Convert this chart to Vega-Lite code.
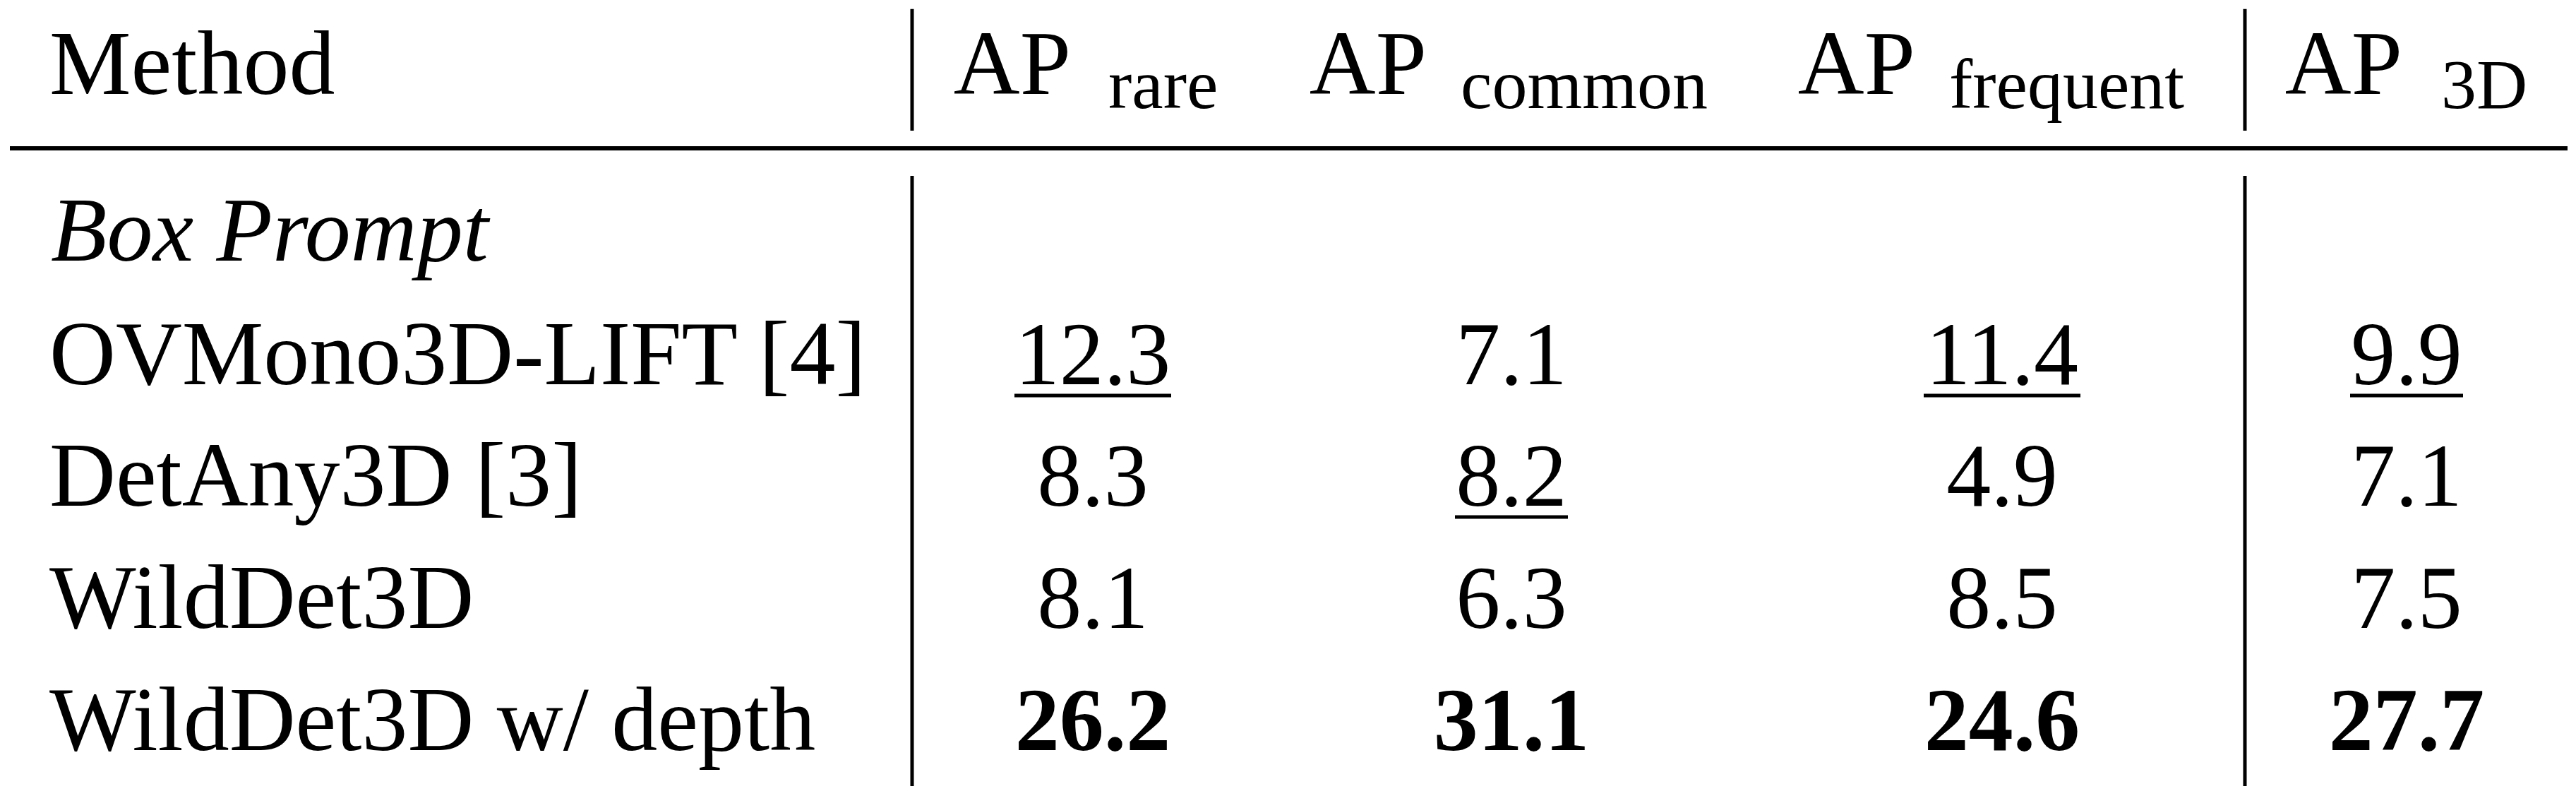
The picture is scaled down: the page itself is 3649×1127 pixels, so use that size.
{
  "$schema": "https://vega.github.io/schema/vega-lite/v6.json",
  "width": 3649,
  "height": 1127,
  "padding": 0,
  "autosize": {"type": "none"},
  "background": "white",
  "config": {
    "view": {"stroke": null},
    "text": {"font": "Liberation Serif", "color": "black", "baseline": "alphabetic"},
    "rule": {"color": "black"}
  },
  "datasets": {
    "headers": [
      {"col": 1, "metric": "rare"},
      {"col": 2, "metric": "common"},
      {"col": 3, "metric": "frequent"},
      {"col": 4, "metric": "3D"}
    ],
    "methods": [
      {"row": 1, "method": "Box Prompt", "kind": "section"},
      {"row": 2, "method": "OVMono3D-LIFT [4]", "kind": "model"},
      {"row": 3, "method": "DetAny3D [3]", "kind": "model"},
      {"row": 4, "method": "WildDet3D", "kind": "model"},
      {"row": 5, "method": "WildDet3D w/ depth", "kind": "model"}
    ],
    "cells": [
      {"row": 2, "method": "OVMono3D-LIFT [4]", "col": 1, "metric": "rare", "value": "12.3", "place": "second"},
      {"row": 2, "method": "OVMono3D-LIFT [4]", "col": 2, "metric": "common", "value": "7.1", "place": ""},
      {"row": 2, "method": "OVMono3D-LIFT [4]", "col": 3, "metric": "frequent", "value": "11.4", "place": "second"},
      {"row": 2, "method": "OVMono3D-LIFT [4]", "col": 4, "metric": "3D", "value": "9.9", "place": "second"},
      {"row": 3, "method": "DetAny3D [3]", "col": 1, "metric": "rare", "value": "8.3", "place": ""},
      {"row": 3, "method": "DetAny3D [3]", "col": 2, "metric": "common", "value": "8.2", "place": "second"},
      {"row": 3, "method": "DetAny3D [3]", "col": 3, "metric": "frequent", "value": "4.9", "place": ""},
      {"row": 3, "method": "DetAny3D [3]", "col": 4, "metric": "3D", "value": "7.1", "place": ""},
      {"row": 4, "method": "WildDet3D", "col": 1, "metric": "rare", "value": "8.1", "place": ""},
      {"row": 4, "method": "WildDet3D", "col": 2, "metric": "common", "value": "6.3", "place": ""},
      {"row": 4, "method": "WildDet3D", "col": 3, "metric": "frequent", "value": "8.5", "place": ""},
      {"row": 4, "method": "WildDet3D", "col": 4, "metric": "3D", "value": "7.5", "place": ""},
      {"row": 5, "method": "WildDet3D w/ depth", "col": 1, "metric": "rare", "value": "26.2", "place": "best"},
      {"row": 5, "method": "WildDet3D w/ depth", "col": 2, "metric": "common", "value": "31.1", "place": "best"},
      {"row": 5, "method": "WildDet3D w/ depth", "col": 3, "metric": "frequent", "value": "24.6", "place": "best"},
      {"row": 5, "method": "WildDet3D w/ depth", "col": 4, "metric": "3D", "value": "27.7", "place": "best"}
    ]
  },
  "resolve": {"scale": {"x": "independent"}},
  "layer": [
    {
      "data": {"values": [{}]},
      "mark": {"type": "rule", "strokeWidth": 6},
      "encoding": {
        "x": {"datum": -0.5, "type": "quantitative", "axis": null,
          "scale": {"type": "linear", "domain": [-0.5, 0, 0.5, 1, 2, 3, 3.5, 4, 4.5], "range": [14, 70, 1292, 1548, 2141, 2836, 3180, 3409, 3637], "zero": false, "nice": false}},
        "x2": {"datum": 4.5},
        "y": {"datum": 0.5, "type": "quantitative", "axis": null,
          "scale": {"type": "linear", "domain": [-0.5, 0, 0.4, 0.5, 0.6, 1, 2, 3, 4, 5, 5.3], "range": [12.7, 133, 185, 210, 249, 369, 544, 716, 889, 1062, 1113], "zero": false, "nice": false}}
      }
    },
    {
      "data": {"values": [{"boundary": 0.5}, {"boundary": 3.5}]},
      "mark": {"type": "rule", "strokeWidth": 5},
      "encoding": {
        "x": {"field": "boundary", "type": "quantitative", "axis": null,
          "scale": {"type": "linear", "domain": [-0.5, 0, 0.5, 1, 2, 3, 3.5, 4, 4.5], "range": [14, 70, 1292, 1548, 2141, 2836, 3180, 3409, 3637], "zero": false, "nice": false}},
        "y": {"datum": -0.5, "type": "quantitative", "axis": null},
        "y2": {"datum": 0.4}
      }
    },
    {
      "data": {"values": [{"boundary": 0.5}, {"boundary": 3.5}]},
      "mark": {"type": "rule", "strokeWidth": 5},
      "encoding": {
        "x": {"field": "boundary", "type": "quantitative", "axis": null,
          "scale": {"type": "linear", "domain": [-0.5, 0, 0.5, 1, 2, 3, 3.5, 4, 4.5], "range": [14, 70, 1292, 1548, 2141, 2836, 3180, 3409, 3637], "zero": false, "nice": false}},
        "y": {"datum": 0.6, "type": "quantitative", "axis": null},
        "y2": {"datum": 5.3}
      }
    },
    {
      "data": {"values": [{"label": "Method"}]},
      "mark": {"type": "text", "align": "left", "fontSize": 130},
      "encoding": {
        "x": {"datum": 0, "type": "quantitative", "axis": null,
          "scale": {"type": "linear", "domain": [-0.5, 0, 0.5, 1, 2, 3, 3.5, 4, 4.5], "range": [14, 70, 1292, 1548, 2141, 2836, 3180, 3409, 3637], "zero": false, "nice": false}},
        "y": {"datum": 0, "type": "quantitative", "axis": null},
        "text": {"field": "label"}
      }
    },
    {
      "data": {"name": "headers"},
      "mark": {"type": "text", "text": "AP", "align": "right", "fontSize": 130},
      "encoding": {
        "x": {"field": "col", "type": "quantitative", "axis": null,
          "scale": {"type": "linear", "domain": [1, 2, 3, 4], "range": [1517, 2021, 2713, 3403], "zero": false, "nice": false}},
        "y": {"datum": 0, "type": "quantitative", "axis": null}
      }
    },
    {
      "data": {"name": "headers"},
      "mark": {"type": "text", "align": "left", "fontSize": 100, "dy": 20},
      "encoding": {
        "x": {"field": "col", "type": "quantitative", "axis": null,
          "scale": {"type": "linear", "domain": [1, 2, 3, 4], "range": [1570, 2069, 2761, 3458], "zero": false, "nice": false}},
        "y": {"datum": 0, "type": "quantitative", "axis": null},
        "text": {"field": "metric"}
      }
    },
    {
      "data": {"name": "methods"},
      "transform": [{"filter": "datum.kind == 'model'"}],
      "mark": {"type": "text", "align": "left", "fontSize": 130},
      "encoding": {
        "x": {"datum": 0, "type": "quantitative", "axis": null,
          "scale": {"type": "linear", "domain": [-0.5, 0, 0.5, 1, 2, 3, 3.5, 4, 4.5], "range": [14, 70, 1292, 1548, 2141, 2836, 3180, 3409, 3637], "zero": false, "nice": false}},
        "y": {"field": "row", "type": "quantitative", "axis": null},
        "text": {"field": "method"}
      }
    },
    {
      "data": {"name": "methods"},
      "transform": [{"filter": "datum.kind == 'section'"}],
      "mark": {"type": "text", "align": "left", "fontSize": 130, "fontStyle": "italic"},
      "encoding": {
        "x": {"datum": 0, "type": "quantitative", "axis": null,
          "scale": {"type": "linear", "domain": [-0.5, 0, 0.5, 1, 2, 3, 3.5, 4, 4.5], "range": [14, 72, 1292, 1548, 2141, 2836, 3180, 3409, 3637], "zero": false, "nice": false}},
        "y": {"field": "row", "type": "quantitative", "axis": null},
        "text": {"field": "method"}
      }
    },
    {
      "data": {"name": "cells"},
      "transform": [{"filter": "datum.place != 'best'"}],
      "mark": {"type": "text", "align": "center", "fontSize": 126},
      "encoding": {
        "x": {"field": "col", "type": "quantitative", "axis": null,
          "scale": {"type": "linear", "domain": [-0.5, 0, 0.5, 1, 2, 3, 3.5, 4, 4.5], "range": [14, 70, 1292, 1548, 2141, 2836, 3180, 3409, 3637], "zero": false, "nice": false}},
        "y": {"field": "row", "type": "quantitative", "axis": null},
        "text": {"field": "value"}
      }
    },
    {
      "data": {"name": "cells"},
      "transform": [{"filter": "datum.place == 'best'"}],
      "mark": {"type": "text", "align": "center", "fontSize": 126, "fontWeight": "bold"},
      "encoding": {
        "x": {"field": "col", "type": "quantitative", "axis": null,
          "scale": {"type": "linear", "domain": [-0.5, 0, 0.5, 1, 2, 3, 3.5, 4, 4.5], "range": [14, 70, 1292, 1548, 2141, 2836, 3180, 3409, 3637], "zero": false, "nice": false}},
        "y": {"field": "row", "type": "quantitative", "axis": null},
        "text": {"field": "value"}
      }
    },
    {
      "data": {"name": "cells"},
      "transform": [{"filter": "datum.place == 'second' && length(datum.value) == 4"}],
      "mark": {"type": "tick", "orient": "horizontal", "size": 222, "thickness": 5, "yOffset": 16, "color": "black", "opacity": 1},
      "encoding": {
        "x": {"field": "col", "type": "quantitative", "axis": null,
          "scale": {"type": "linear", "domain": [-0.5, 0, 0.5, 1, 2, 3, 3.5, 4, 4.5], "range": [14, 70, 1292, 1548, 2141, 2836, 3180, 3409, 3637], "zero": false, "nice": false}},
        "y": {"field": "row", "type": "quantitative", "axis": null}
      }
    },
    {
      "data": {"name": "cells"},
      "transform": [{"filter": "datum.place == 'second' && length(datum.value) == 3"}],
      "mark": {"type": "tick", "orient": "horizontal", "size": 160, "thickness": 5, "yOffset": 16, "color": "black", "opacity": 1},
      "encoding": {
        "x": {"field": "col", "type": "quantitative", "axis": null,
          "scale": {"type": "linear", "domain": [-0.5, 0, 0.5, 1, 2, 3, 3.5, 4, 4.5], "range": [14, 70, 1292, 1548, 2141, 2836, 3180, 3409, 3637], "zero": false, "nice": false}},
        "y": {"field": "row", "type": "quantitative", "axis": null}
      }
    }
  ]
}
